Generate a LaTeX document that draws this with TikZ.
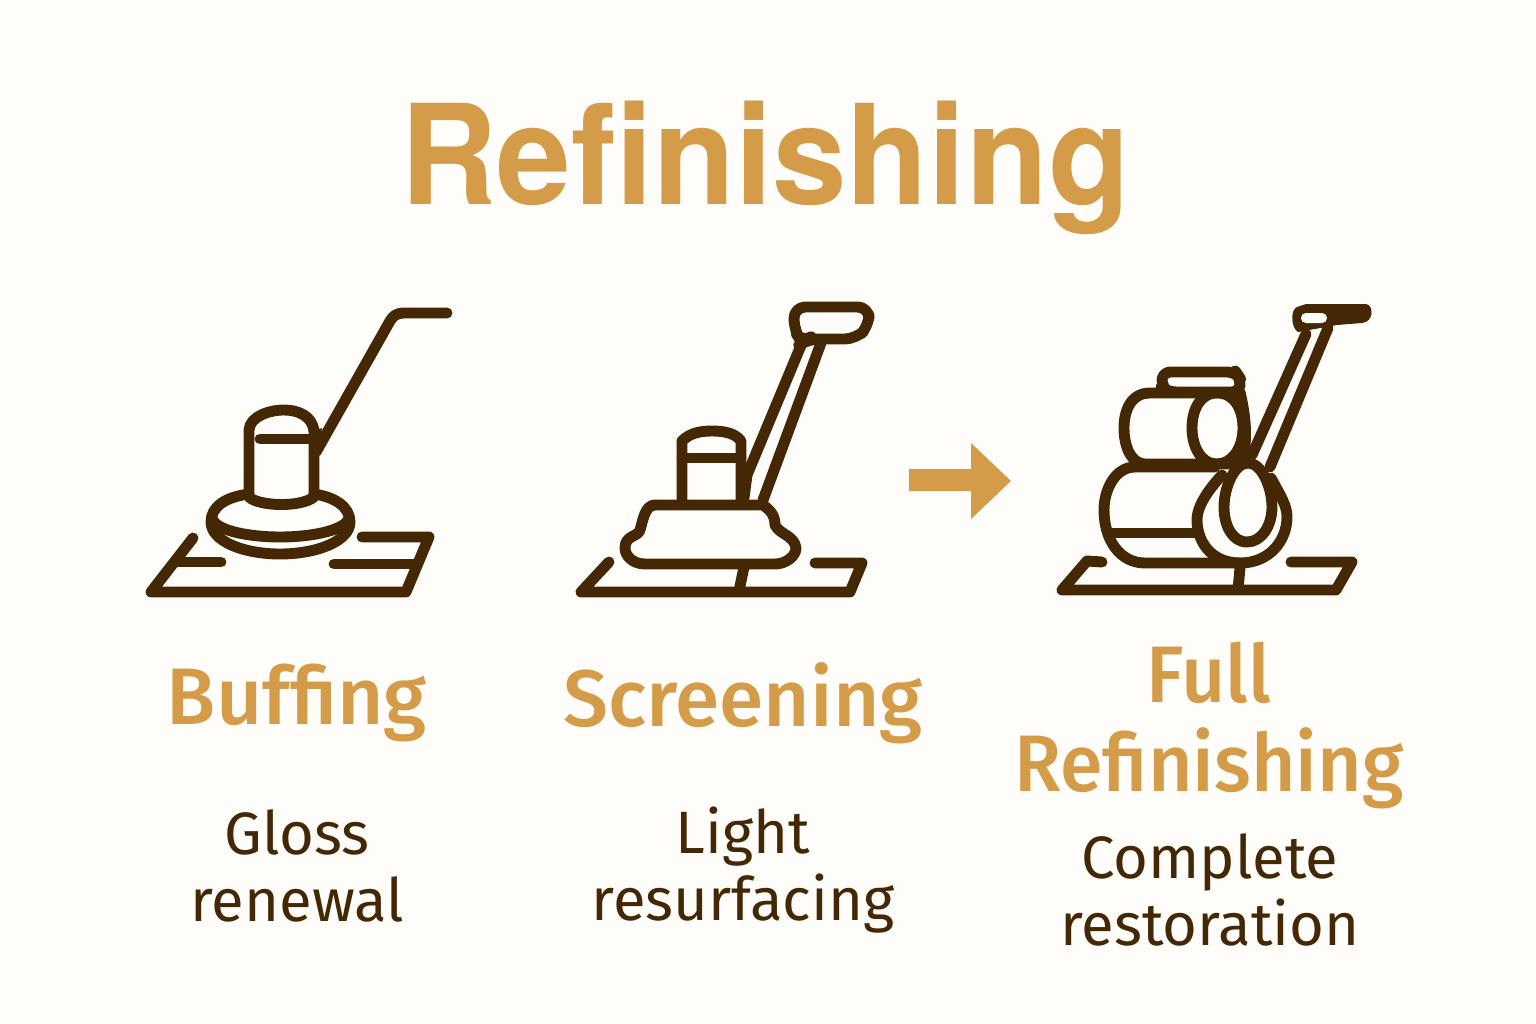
\documentclass[tikz,border=0pt]{standalone}
\usepackage{fontspec}
\setmainfont{Fira Sans}
\newfontfamily\headfont{TeX Gyre Heros}
\newfontfamily\stepfont{Fira Sans Medium}
\usetikzlibrary{positioning}
\definecolor{goldtone}{HTML}{D49C48}
\definecolor{browntone}{HTML}{442806}
\definecolor{papertone}{HTML}{FFFDFA}
\tikzset{
  iconline/.style={draw=browntone, line width=3.1pt, line cap=round, line join=round},
  headtext/.style={text=goldtone, xscale=0.965, font=\fontsize{39.5}{48}\headfont\bfseries},
  steptitle/.style={text=goldtone, align=center, font=\fontsize{22.8}{25.3}\stepfont},
  stepnote/.style={text=browntone, align=center, font=\fontsize{17}{19}\selectfont},
}
\begin{document}
\begin{tikzpicture}[x=0.01cm, y=-0.01cm]
\fill[papertone] (0,0) rectangle (1536,1024);

\node[headtext] (heading) at (765,168) {Refinishing};

% buffing
\draw[iconline] (447,313) -- (405,313) .. controls (396,313) and (393,316) .. (390,321) -- (316,452);
\fill[browntone] (310,432) -- (322,428) -- (316,465) -- cycle;
\draw[iconline] (249,494) -- (249,430) .. controls (250,416) and (270,410) .. (284,410) .. controls (298,410) and (313,416) .. (314,432) -- (314,494);
\draw[iconline] (260,439) -- (314,439);
\draw[iconline] (249,497) .. controls (258,506) and (300,508) .. (314,497);
\draw[iconline] (249,494) .. controls (225,497) and (211,507) .. (211,522) .. controls (211,541) and (243,554) .. (280,554) .. controls (317,554) and (350,541) .. (350,522) .. controls (350,507) and (335,497) .. (314,494);
\draw[iconline] (213,520) .. controls (218,531) and (250,537) .. (280,537) .. controls (310,537) and (342,531) .. (348,520);
\draw[iconline] (193,538) -- (151,592) -- (406,592) -- (429,537) -- (362,537);
\draw[iconline] (175,562) -- (221,562);
\draw[iconline] (334,564) -- (415,564);

% screening
\draw[iconline, rounded corners=3.2pt] (802,343) -- (794,330) -- (794,307) -- (869,307) -- (869,326) -- (856,339) -- (808,339) -- cycle;
\draw[iconline] (802,343) -- (747,475) -- (744,498);
\draw[iconline] (821,343) -- (763,500);
\draw[iconline] (682,503) -- (682,441) .. controls (690,433) and (700,431) .. (712,431) .. controls (724,431) and (735,433) .. (741,441) -- (741,503);
\draw[iconline] (682,458) -- (741,458);
\draw[iconline] (763,505) -- (655,505) .. controls (645,505) and (643,520) .. (640,530) .. controls (638,537) and (625,535) .. (625,548) .. controls (625,556) and (633,564) .. (645,564) -- (775,564) .. controls (786,564) and (796,556) .. (796,548) .. controls (794,535) and (780,535) .. (775,525) .. controls (775,515) and (770,510) .. (763,505);
\draw[iconline] (744,567) -- (739,591);
\draw[iconline] (609,562) -- (581,592) -- (850,592) -- (862,563) -- (815,563);

% arrow between the last two steps
\fill[goldtone] (909,469) -- (971,469) -- (971,443) -- (1011,481) -- (971,519) -- (971,491) -- (909,491) -- cycle;

% full refinishing
\fill[browntone] (1306,304) -- (1366,304) .. controls (1374,305) and (1374,322) .. (1362,323) -- (1337,325) -- (1298,332) .. controls (1291,328) and (1290,310) .. (1297,307) -- cycle;
\fill[papertone, rounded corners=1.4pt] (1301,313) rectangle (1327,323);
\draw[iconline] (1306,334) -- (1252,455);
\draw[iconline] (1328,328) -- (1270,467);
\draw[iconline, rounded corners=2.4pt] (1168,392) -- (1162,388) -- (1162,372) -- (1236,372) -- (1240,378) -- (1240,392) -- cycle;
\draw[iconline] (1195,393) -- (1150,393) .. controls (1130,393) and (1124,412) .. (1124,428) .. controls (1124,448) and (1132,464) .. (1145,464) -- (1240,464);
\draw[iconline] (1217,393) .. controls (1235,393) and (1243,410) .. (1243,428) .. controls (1243,448) and (1232,464) .. (1217,464) .. controls (1200,464) and (1192,445) .. (1192,428) .. controls (1192,410) and (1200,393) .. (1217,393);
\draw[iconline] (1240,392) .. controls (1243,405) and (1247,425) .. (1245,445) -- (1242,460);
\draw[iconline] (1215,467) -- (1135,467) .. controls (1115,467) and (1104,490) .. (1104,510) .. controls (1104,540) and (1120,563) .. (1145,563) -- (1240,563);
\draw[iconline] (1112,533) -- (1197,533);
\draw[iconline] (1222,475) .. controls (1210,488) and (1197,505) .. (1197,520) .. controls (1197,540) and (1210,563) .. (1240,563) .. controls (1270,563) and (1287,540) .. (1287,517) .. controls (1287,505) and (1280,495) .. (1271,478);
\draw[iconline] (1248,463) .. controls (1262,463) and (1272,488) .. (1272,507) .. controls (1272,525) and (1262,542) .. (1247,542) .. controls (1232,542) and (1224,525) .. (1224,507) .. controls (1224,488) and (1234,463) .. (1248,463);
\draw[iconline] (1240,568) -- (1238,589);
\draw[iconline] (1102,562) -- (1087,561) -- (1062,590) -- (1336,590) -- (1352,562) -- (1291,562);

% step texts
\node[steptitle] (buffingtitle) at (297,703) {Buffing};
\node[steptitle] (screentitle) at (743,703) {Screening};
\node[steptitle, xscale=0.96] (fulltitle) at (1209,725) {Full\\Re{}fi{}nishing};
\node[stepnote] (buffingnote) at (297,866) {Gloss\\renewal};
\node[stepnote] (screennote) at (743,870) {Light\\resurfacing};
\node[stepnote] (fullnote) at (1210,890) {Complete\\restoration};
\end{tikzpicture}
\end{document}
